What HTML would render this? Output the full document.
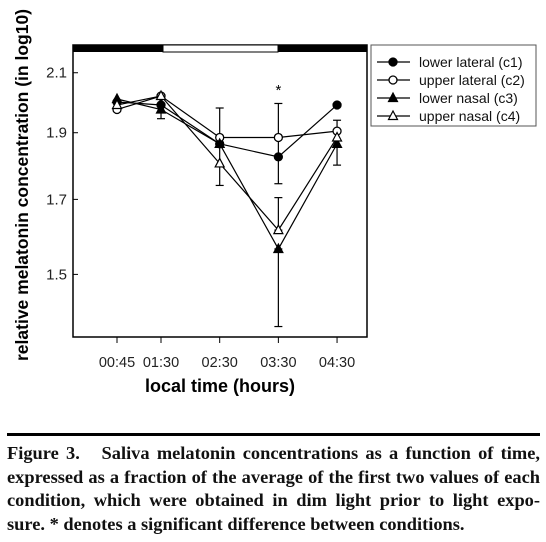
<!DOCTYPE html>
<html><head><meta charset="utf-8">
<style>
body{margin:0;background:#fff;width:546px;height:542px;overflow:hidden;position:relative;font-family:"Liberation Sans",sans-serif}
#cap{position:absolute;left:7px;top:442px;width:533px;font-family:"Liberation Serif",serif;font-weight:bold;font-size:18.4px;line-height:23.7px;color:#111}
#cap div{text-align:justify;text-align-last:justify;white-space:nowrap}
#cap div.last{text-align-last:left}
#rule{position:absolute;left:7px;top:433px;width:533px;height:3px;background:#000}
</style></head><body>
<svg id="chart" width="546" height="420" style="position:absolute;left:0;top:0"></svg>
<div id="rule"></div>
<div id="cap">
<div>Figure 3.&nbsp;&nbsp; Saliva melatonin concentrations as a function of time,</div>
<div>expressed as a fraction of the average of the first two values of each</div>
<div>condition, which were obtained in dim light prior to light expo-</div>
<div class="last">sure. * denotes a significant difference between conditions.</div>
</div>
<script>
const categories=["00:45","01:30","02:30","03:30","04:30"];
const minutes=[45,90,150,210,270];
const seriesNames=["lower lateral (c1)","upper lateral (c2)","lower nasal (c3)","upper nasal (c4)"];
const c1=[2.00,1.99,1.865,1.825,1.99];
const c2=[1.975,2.02,1.885,1.885,1.905];
const c3=[2.01,1.975,1.865,1.565,1.865];
const c4=[1.99,2.02,1.805,1.615,1.885];
const errX=[90,150,210,210,210,270];
const errLo=[1.945,1.74,1.745,1.375,1.705,1.80];
const errHi=[2.02,1.98,1.995,1.565,1.615,1.94];
const yTicks=[1.5,1.7,1.9,2.1];
const NS="http://www.w3.org/2000/svg";
const svg=document.getElementById('chart');
const X=t=>117+(t-45)*0.978;
const Y=v=>517.4-1380*Math.log10(v);
function mk(tag,a,parent){const e=document.createElementNS(NS,tag);for(const k in a)e.setAttribute(k,a[k]);(parent||svg).appendChild(e);return e;}
let f=mk('rect',{x:73,y:45,width:294,height:292,fill:'none',stroke:'#000','stroke-width':1.5});


let b1=mk('rect',{x:73,y:45,width:90,height:7,fill:'#000'});


let b2=mk('rect',{x:278,y:45,width:89,height:7,fill:'#000'});


mk('rect',{x:163,y:45,width:115,height:7,fill:'#fff',stroke:'#000','stroke-width':1});
yTicks.forEach(v=>{
 const t=mk('text',{x:67,y:Y(v)+5,'text-anchor':'end','font-size':15,fill:'#222'});t.textContent=v.toFixed(1);
 
 
 mk('line',{x1:73,x2:78,y1:Y(v),y2:Y(v),stroke:'#000'});
});
categories.forEach((c,i)=>{
 const x=X(minutes[i]);
 mk('line',{x1:x,x2:x,y1:337,y2:343,stroke:'#000'});
 const t=mk('text',{x:x,y:367,'text-anchor':'middle','font-size':14.5,fill:'#222'});t.textContent=c;
 
 
});
let xl=mk('text',{x:220,y:392,'text-anchor':'middle','font-size':18,'font-weight':'bold'});xl.textContent='local time (hours)';


let yl=mk('text',{x:0,y:0,'text-anchor':'middle','font-size':17.5,'font-weight':'bold',transform:'translate(28,185) rotate(-90)'});yl.textContent='relative melatonin concentration (in log10)';


let st=mk('text',{x:X(210),y:95,'text-anchor':'middle','font-size':15});st.textContent='*';


errX.forEach((t,i)=>{
 const x=X(t),g=mk('g',{stroke:'#000','stroke-width':1.2});
 
 
 mk('line',{x1:x,x2:x,y1:Y(errLo[i]),y2:Y(errHi[i])},g);
 mk('line',{x1:x-4,x2:x+4,y1:Y(errLo[i]),y2:Y(errLo[i])},g);
 mk('line',{x1:x-4,x2:x+4,y1:Y(errHi[i]),y2:Y(errHi[i])},g);
});
function marker(g,x,y,type){
 if(type<2) mk('circle',{cx:x,cy:y,r:4,fill:type==0?'#000':'#fff',stroke:'#000','stroke-width':1.3},g);
 else mk('polygon',{points:`${x},${y-5} ${x-4.5},${y+3.5} ${x+4.5},${y+3.5}`,fill:type==2?'#000':'#fff',stroke:'#000','stroke-width':1.2},g);
}
const all=[c1,c2,c3,c4];
all.forEach((s,k)=>{
 const g=mk('g',{});
 
 
 mk('polyline',{points:s.map((v,i)=>X(minutes[i])+','+Y(v)).join(' '),fill:'none',stroke:'#000','stroke-width':1.2},g);
 s.forEach((v,i)=>marker(g,X(minutes[i]),Y(v),k));
});
const lg=mk('g',{});


mk('rect',{x:371,y:45,width:165,height:81,fill:'#fff',stroke:'#555','stroke-width':1},lg);
seriesNames.forEach((n,k)=>{
 const y=62+k*18;
 const e=mk('g',{},lg);
 
 
 mk('line',{x1:377,x2:410,y1:y,y2:y,stroke:'#000','stroke-width':1.3},e);
 marker(e,393,y,k);
 const t=mk('text',{x:419,y:y+5,'font-size':14,fill:'#111'},e);t.textContent=n;
});
</script>
</body></html>
